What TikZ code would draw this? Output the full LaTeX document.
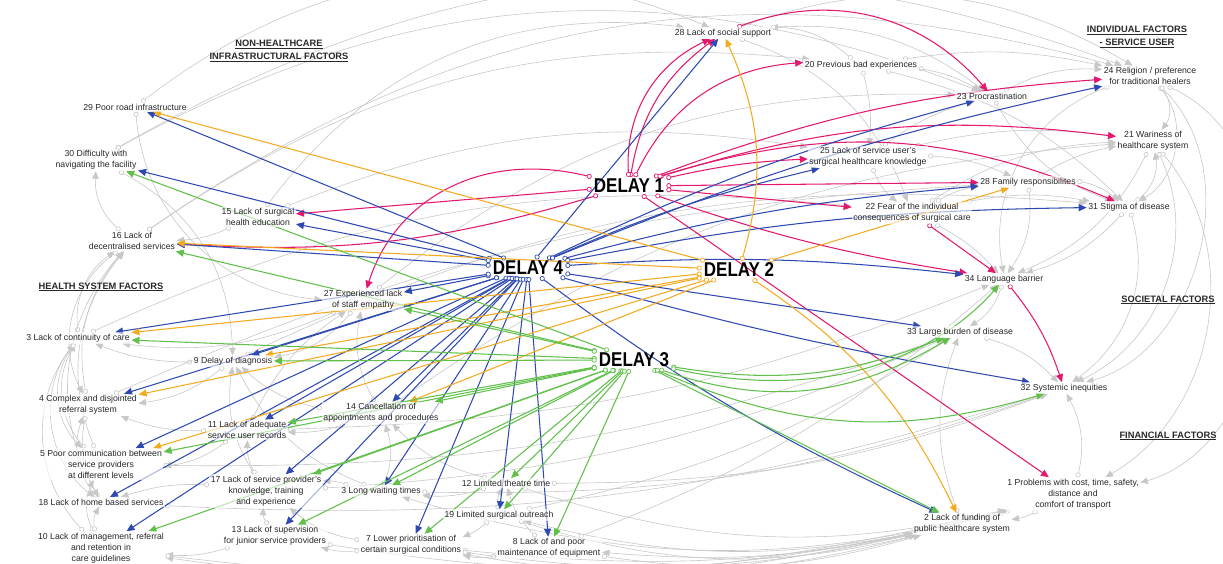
\documentclass[tikz,border=0pt]{standalone}
\usepackage{fontspec}
\setmainfont{Liberation Sans}
\usetikzlibrary{arrows.meta}
\definecolor{pinkc}{RGB}{228,24,110}
\definecolor{bluec}{RGB}{46,74,178}
\definecolor{orangec}{RGB}{244,170,32}
\definecolor{greenc}{RGB}{96,192,74}
\definecolor{grayc}{RGB}{200,200,200}
\definecolor{txtc}{RGB}{40,40,40}
\newcommand\labfont{\fontsize{8.7}{11}\selectfont}
\newcommand\hdfont{\fontsize{9.3}{13}\selectfont\bfseries}
\newcommand\dlbox[1]{\scalebox{0.85}[1]{\fontsize{20}{22}\selectfont\bfseries #1}}
\pgfdeclarelayer{bg}
\pgfsetlayers{bg,main}
\tikzset{
  lab/.style={font=\labfont, align=center, inner sep=1.5pt, text=txtc, fill=white, fill opacity=0.6, text opacity=1},
  hd/.style={font=\hdfont, align=center, inner sep=1pt, text=txtc},
  dl/.style={inner sep=2pt, text=black},
  edg/.style={line width=1.05pt, {Circle[fill=white,length=5pt,width=5pt,line width=0.7pt]}-{Triangle[length=8pt,width=7pt]}},
  gr/.style={line width=0.6pt, draw=grayc, {Circle[fill=white,length=5pt,width=5pt,line width=0.6pt]}-{Triangle[length=7.5pt,width=6.5pt]}},
  pk/.style={edg, draw=pinkc},
  bl4/.style={edg, draw=bluec},
  or/.style={edg, draw=orangec},
  gn/.style={edg, draw=greenc},
  bl/.style={bend left=#1}
}
\begin{document}
\begin{tikzpicture}[x=1pt,y=-1pt]
\useasboundingbox (0,0) rectangle (1223,564);

% headings
\node[hd] (h1) at (279,51) {\underline{NON-HEALTHCARE}\\\underline{INFRASTRUCTURAL FACTORS}};
\node[hd] (h2) at (1137,37) {\underline{INDIVIDUAL FACTORS}\\\underline{- SERVICE USER}};
\node[hd] (h3) at (101,287) {\underline{HEALTH SYSTEM FACTORS}};
\node[hd] (h4) at (1168,300) {\underline{SOCIETAL FACTORS}};
\node[hd] (h5) at (1168,436) {\underline{FINANCIAL FACTORS}};

% delays
\node[dl] (d1) at (629,186) {\dlbox{DELAY 1}};
\node[dl] (d4) at (528,268) {\dlbox{DELAY 4}};
\node[dl] (d2) at (739,270) {\dlbox{DELAY 2}};
\node[dl] (d3) at (634,360) {\dlbox{DELAY 3}};

% factors
\node[lab] (n29) at (135,107) {29 Poor road infrastructure};
\node[lab] (n30) at (96,160) {30 Difficulty with\\navigating the facility};
\node[lab] (n15) at (258,217) {15 Lack of surgical\\health education};
\node[lab] (n16) at (132,241) {16 Lack of\\decentralised services};
\node[lab] (n27) at (363,300) {27 Experienced lack\\of staff empathy};
\node[lab] (n3) at (78,338) {3 Lack of continuity of care};
\node[lab] (n9) at (233,361) {9 Delay of diagnosis};
\node[lab] (n4) at (88,405) {4 Complex and disjointed\\referral system};
\node[lab] (n11) at (247,430) {11 Lack of adequate\\service user records};
\node[lab] (n14) at (381,413) {14 Cancellation of\\appointments and procedures};
\node[lab] (n5) at (101,464) {5 Poor communication between\\service providers\\at different levels};
\node[lab] (n17) at (266,491) {17 Lack of service provider's\\knowledge, training\\and experience};
\node[lab] (n6) at (381,491) {3 Long waiting times};
\node[lab] (n18) at (101,502) {18 Lack of home based services};
\node[lab] (n13) at (275,536) {13 Lack of supervision\\for junior service providers};
\node[lab] (n10) at (101,548) {10 Lack of management, referral\\and retention in\\care guidelines};
\node[lab] (n7) at (411,545) {7 Lower prioritisation of\\certain surgical conditions};
\node[lab] (n12) at (506,483) {12 Limited theatre time};
\node[lab] (n19) at (499,515) {19 Limited surgical outreach};
\node[lab] (n8) at (549,548) {8 Lack of and poor\\maintenance of equipment};
\node[lab] (n28) at (723,33) {28 Lack of social support};
\node[lab] (n20) at (861,65) {20 Previous bad experiences};
\node[lab] (n23) at (992,96) {23 Procrastination};
\node[lab] (n24) at (1150,76) {24 Religion / preference\\for traditional healers};
\node[lab] (n21) at (1153,141) {21 Wariness of\\healthcare system};
\node[lab] (n25) at (868,157) {25 Lack of service user's\\surgical healthcare knowledge};
\node[lab] (n26) at (1028,182) {28 Family responsibilites};
\node[lab] (n22) at (912,213) {22 Fear of the individual\\consequences of surgical care};
\node[lab] (n31) at (1129,207) {31 Stigma of disease};
\node[lab] (n34) at (1004,279) {34 Language barrier};
\node[lab] (n33) at (960,332) {33 Large burden of disease};
\node[lab] (n32) at (1064,388) {32 Systemic inequities};
\node[lab] (n1) at (1073,494) {1 Problems with cost, time, safety,\\distance and\\comfort of transport};
\node[lab] (n2) at (962,524) {2 Lack of funding of\\public healthcare system};

\begin{pgfonlayer}{bg}
\fill[white] (0,0) rectangle (1223,564);
% gray background web
\foreach \a/\b/\c in {
 n3/n16/30, n4/n16/25, n5/n16/30, n18/n16/35, n10/n3/40, n5/n3/35, n18/n4/30, n10/n5/25,
 n4/n18/-20, n3/n18/-45, n9/n3/10, n9/n4/15, n11/n4/10, n11/n5/15, n17/n18/-10, n13/n10/10,
 n7/n13/10, n17/n9/20, n6/n9/20, n14/n9/15, n14/n11/10, n6/n17/-10, n12/n6/10, n19/n7/10,
 n8/n7/10, n2/n8/8, n2/n19/12, n2/n7/12, n1/n2/10, n1/n6/15, n2/n10/10, n12/n14/15,
 n17/n11/15, n13/n17/20, n10/n18/20, n6/n14/-20, n7/n17/15, n8/n12/15, n19/n12/20, n27/n9/20,
 n27/n3/15, n14/n27/20, n11/n27/15, n15/n16/10, n16/n30/25, n20/n24/10, n20/n23/10, n23/n24/15,
 n25/n23/10, n25/n21/10, n22/n21/15, n22/n31/10, n26/n21/10, n26/n31/15, n31/n21/-30, n24/n21/40,
 n24/n31/50, n21/n34/20, n31/n34/15, n24/n32/60, n21/n32/45, n31/n32/35, n34/n33/20, n33/n32/15,
 n20/n28/-20, n28/n23/20, n25/n26/10, n22/n26/10, n25/n22/-15, n20/n25/10, n24/n34/-40, n28/n24/25,
 n26/n34/20, n22/n34/10, n1/n32/-20, n2/n33/20, n29/n28/30, n30/n24/25, n16/n20/20, n15/n25/15,
 n15/n28/30, n27/n23/20, n3/n22/15, n9/n31/15, n4/n26/10, n11/n34/-10, n5/n33/-10, n18/n32/-10,
 n10/n1/-10, n13/n2/-10, n17/n33/-10, n14/n21/15, n6/n32/-10, n12/n32/-10, n7/n1/-10, n19/n33/-10,
 n8/n34/-10, n16/n24/25, n30/n23/25, n24/n1/70, n21/n1/50, n29/n27/-40, n30/n9/30, n3/n5/-40,
 n16/n4/-40, n20/n31/15, n23/n31/-20, n28/n22/25, n12/n1/-15, n19/n2/-15, n8/n2/-12, n7/n2/-10}
 \draw[gr] (\a) to[bl=\c] (\b);

% DELAY 1 (pink)
\draw[pk] (d1) to[bl=22] (n28);
\draw[pk] (d1) to[bl=34] (n28);
\draw[pk] (d1) to[bl=30] (n20);
\draw[pk] (n28) to[bl=35] (n23);
\draw[pk] (d1) to[bl=8] (n24);
\draw[pk] (d1) to[bl=12] (n21);
\draw[pk] (d1) to[bl=20] (n31);
\draw[pk] (d1) to[bl=5] (n25);
\draw[pk] (d1) to (n26);
\draw[pk] (d1) to (n22);
\draw[pk] (d1) to[bl=-5] (n34);
\draw[pk] (n22) to (n34);
\draw[pk] (n34) to[bl=10] (n32);
\draw[pk] (d1) to (n1);
\draw[pk] (d1) to (n15);
\draw[pk] (d1) to[bl=10] (n16);
\draw[pk] (d1) .. controls (480,150) and (395,200) .. (n27);

% DELAY 4 (blue)
\foreach \t in {n28,n29,n30,n15,n16,n27,n3,n9,n4,n5,n11,n18,n10,n17,n13,n14,n6,n7,n19,n8,n33}
 \draw[bl4] (d4) to (\t);
\foreach \t in {n25,n23,n24,n26,n31,n34}
 \draw[bl4] (d4) to[bl=5] (\t);
\draw[bl4] (d4) to[bl=-3] (n32);
\draw[bl4] (d4) to[bl=-6] (n2);

% DELAY 2 (orange)
\foreach \t in {n29,n3,n9,n4,n5,n14,n16,n26}
 \draw[or] (d2) to (\t);
\draw[or] (d2) to[bl=-20] (n28);
\draw[or] (d2) to[bl=15] (n2);

% DELAY 3 (green)
\foreach \t in {n30,n16,n27,n3,n9,n14,n11,n5,n17,n6,n10,n13,n7,n12,n19,n8,n2}
 \draw[gn] (d3) to (\t);
\draw[gn] (d3) to[bl=-15] (n33);
\draw[gn] (d3) to[bl=-25] (n33);
\draw[gn] (d3) to[bl=-20] (n32);
\draw[gn] (d3) .. controls (860,410) and (960,330) .. (n34);
\end{pgfonlayer}
\end{tikzpicture}
\end{document}
